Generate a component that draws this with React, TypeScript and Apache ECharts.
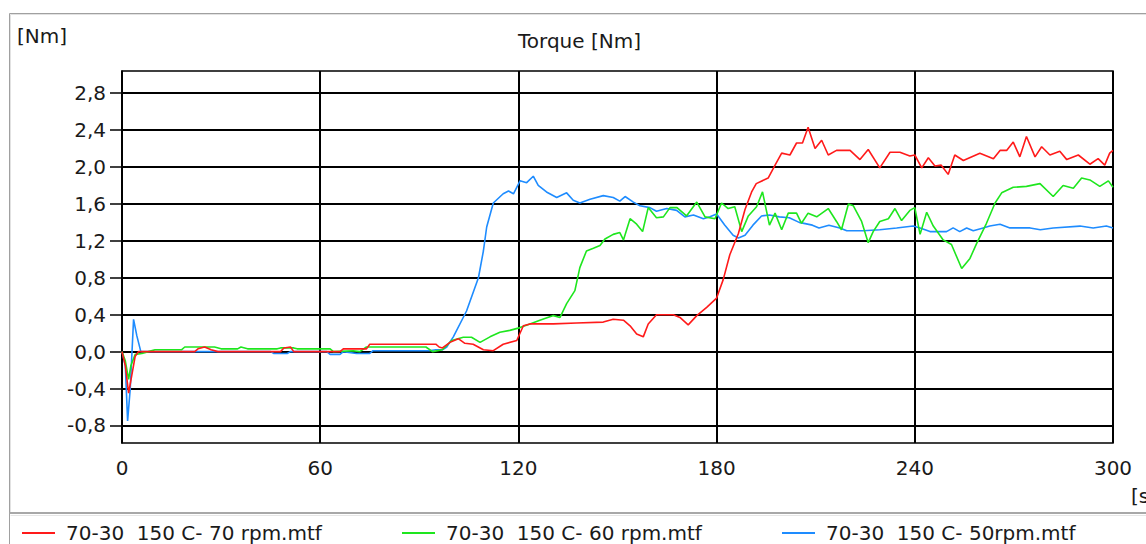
import React, { useEffect, useRef } from 'react';
import * as echarts from 'echarts';

const FONT = 'DejaVu Sans';

const seriesNames = ['70-30  150 C- 70 rpm.mtf', '70-30  150 C- 60 rpm.mtf', '70-30  150 C- 50rpm.mtf'];
const seriesColors = ['#ff1a1a', '#1ee61e', '#1e8cff'];
const yTicks = [-0.8, -0.4, 0, 0.4, 0.8, 1.2, 1.6, 2.0, 2.4, 2.8];
const xTicks = [0, 60, 120, 180, 240, 300];

// [time s, torque Nm]
const torque70: [number, number][] = [
  [0, 0], [1, -0.15], [2, -0.45], [3, -0.25], [4, -0.05], [5, 0], [22, 0], [23, 0.03], [25, 0.05], [27, 0.02],
  [29, 0], [48, 0], [49, 0.04], [51, 0.05], [52, 0], [66, 0], [67, 0.03], [74, 0.03], [75, 0.08], [95, 0.08],
  [96, 0.05], [97, 0.04], [99.3, 0.1], [101.8, 0.14], [103.8, 0.09], [106.3, 0.08], [109.4, 0.02], [112.4, 0.01],
  [115.4, 0.08], [119.5, 0.12], [121.5, 0.28], [123.5, 0.3], [130.6, 0.3], [137.6, 0.31], [145.7, 0.32],
  [148.7, 0.35], [151.8, 0.34], [153.8, 0.28], [155.8, 0.19], [157.8, 0.16], [159.3, 0.3], [161.8, 0.4],
  [166.9, 0.4], [168.9, 0.37], [171.4, 0.29], [174, 0.39], [177, 0.48], [180, 0.58], [182, 0.78], [184, 1.05],
  [186.6, 1.28], [188.6, 1.54], [190.6, 1.73], [192, 1.82], [195.6, 1.88], [197.7, 2.02], [199.7, 2.15],
  [202.2, 2.13], [204.2, 2.26], [206, 2.26], [207.7, 2.43], [209.8, 2.2], [211.8, 2.29], [213.8, 2.13],
  [216.3, 2.18], [220.4, 2.18], [223.4, 2.08], [225.9, 2.19], [229.4, 1.99], [232.5, 2.16], [235.5, 2.16],
  [238.5, 2.12], [240, 2.13], [242.1, 1.99], [244.1, 2.1], [246.1, 2.01], [248, 2.02], [250.1, 1.92],
  [252.1, 2.13], [254.7, 2.07], [259.7, 2.15], [263.8, 2.09], [265.8, 2.18], [267.8, 2.18], [269.8, 2.27],
  [271.8, 2.11], [273.8, 2.33], [276.4, 2.11], [278.4, 2.22], [280.9, 2.13], [283.9, 2.17], [286, 2.08],
  [289.5, 2.13], [293, 2.03], [295.5, 2.09], [297.5, 2.02], [299, 2.15], [300, 2.18],
];

const torque60: [number, number][] = [
  [0, 0], [1, -0.1], [2, -0.3], [2.7, -0.15], [4, -0.03], [6, -0.02], [8, 0], [10, 0.02], [18, 0.02],
  [19, 0.05], [28, 0.05], [30, 0.03], [35, 0.03], [36, 0.05], [38, 0.03], [47, 0.03], [48, 0.04], [52, 0.04],
  [53, 0.03], [63, 0.03], [64, 0], [70, 0.01], [72, 0], [74, 0.05], [92, 0.05], [94, 0], [97, 0.02],
  [99.8, 0.12], [103.3, 0.155], [105.8, 0.155], [108.4, 0.1], [111.4, 0.16], [114.4, 0.21], [117.4, 0.23],
  [120.5, 0.26], [123.5, 0.3], [126.5, 0.34], [130.6, 0.39], [132.6, 0.37], [134.6, 0.52], [137.1, 0.66],
  [138.6, 0.91], [140.6, 1.09], [142.7, 1.12], [144.7, 1.15], [146.2, 1.22], [148.7, 1.27], [150.7, 1.29],
  [151.8, 1.21], [153.8, 1.44], [155.8, 1.38], [157.6, 1.3], [159.3, 1.56], [161.8, 1.45], [163.9, 1.46],
  [165.9, 1.56], [168, 1.56], [170.9, 1.47], [174, 1.62], [176.5, 1.46], [179.5, 1.44], [181.5, 1.61],
  [183.5, 1.55], [185.5, 1.57], [187.6, 1.3], [189.6, 1.47], [192.1, 1.57], [193.9, 1.73], [196, 1.37],
  [197.7, 1.5], [199.7, 1.32], [201.7, 1.5], [204.2, 1.5], [205.7, 1.39], [207.7, 1.5], [210.3, 1.46],
  [213.8, 1.55], [216.3, 1.41], [217.8, 1.32], [219.9, 1.6], [221.4, 1.58], [223.9, 1.41], [225.9, 1.18],
  [227.4, 1.3], [229.4, 1.41], [232, 1.44], [234, 1.55], [236, 1.42], [238.5, 1.53], [240, 1.56],
  [241.6, 1.27], [243.6, 1.51], [245.6, 1.36], [248.6, 1.21], [251.1, 1.16], [254.2, 0.9], [256.7, 1.01],
  [258.7, 1.17], [261.7, 1.39], [264.3, 1.61], [266.3, 1.72], [269.8, 1.78], [273.8, 1.79], [277.9, 1.82],
  [281.9, 1.68], [284.9, 1.8], [288, 1.77], [290.5, 1.88], [293, 1.86], [296, 1.79], [298.6, 1.85], [300, 1.78],
];

const torque50: [number, number][] = [
  [0, 0], [1, -0.15], [1.7, -0.75], [2.5, -0.4], [3.5, 0.35], [4.5, 0.17], [5.7, 0], [45, 0], [46, -0.02],
  [50, -0.02], [51, 0], [62, 0], [63, -0.03], [66, -0.03], [67, 0], [71, -0.02], [75, -0.02], [76, 0.01],
  [93, 0.01], [95, 0.02], [97, 0.02], [98.3, 0.05], [100.3, 0.16], [104.3, 0.44], [107.9, 0.8], [109.4, 1.09],
  [110.4, 1.35], [112.4, 1.61], [115.4, 1.71], [117, 1.74], [118.5, 1.71], [120.5, 1.85], [122.5, 1.83],
  [124.5, 1.9], [126, 1.8], [128.5, 1.73], [131.6, 1.67], [134.6, 1.72], [136.6, 1.64], [138.6, 1.61],
  [141.7, 1.65], [145.7, 1.69], [148.7, 1.67], [150.7, 1.63], [152.3, 1.68], [154.8, 1.62], [156.8, 1.58],
  [159.8, 1.56], [161.8, 1.52], [164.9, 1.55], [167.9, 1.53], [170.4, 1.46], [173, 1.48], [176, 1.44],
  [178, 1.46], [180, 1.49], [182.5, 1.37], [185, 1.26], [186.6, 1.23], [188.6, 1.26], [191, 1.37],
  [193.6, 1.47], [196, 1.48], [199, 1.46], [202, 1.45], [205, 1.4], [209, 1.37], [211, 1.34], [214, 1.37],
  [217.3, 1.34], [219.4, 1.31], [224.4, 1.31], [229.4, 1.32], [234.5, 1.34], [239.5, 1.36], [241.6, 1.34],
  [244.6, 1.3], [249.6, 1.3], [251.6, 1.34], [253.6, 1.3], [255.7, 1.34], [257.7, 1.31], [260.7, 1.34],
  [262.7, 1.36], [265.8, 1.38], [268.8, 1.34], [274.9, 1.34], [278, 1.32], [281.9, 1.34], [290, 1.36],
  [294, 1.34], [298, 1.36], [300, 1.34],
];

const seriesData = [torque70, torque60, torque50];

export default function App() {
  const ref = useRef<HTMLDivElement>(null);
  useEffect(() => {
    if (!ref.current) return;
    const chart = echarts.init(ref.current, null, { renderer: 'svg' });
    const textBase = { fontFamily: FONT, fontSize: 20, color: '#1a1a1a' };
    const legendX = [22, 402, 782];
    chart.setOption({
      animation: false,
      backgroundColor: '#ffffff',
      textStyle: { fontFamily: FONT },
      title: {
        text: 'Torque [Nm]',
        left: 518,
        top: 31,
        padding: 0,
        textStyle: { ...textBase, fontWeight: 'normal' },
      },
      legend: seriesNames.map((name, i) => ({
        data: [name],
        left: legendX[i],
        top: 523,
        padding: 0,
        icon: 'rect',
        itemWidth: 33,
        itemHeight: 2,
        selectedMode: false,
        textStyle: { ...textBase, padding: [0, 0, 0, 6], lineHeight: 20 },
      })),
      grid: {
        left: 122,
        right: 33,
        top: 71,
        bottom: 101,
        show: true,
        borderColor: '#000',
        borderWidth: 1.5,
        backgroundColor: 'transparent',
        outerBoundsMode: 'none',
      },
      xAxis: {
        type: 'value',
        min: 0,
        max: 300,
        interval: 60,
        axisLine: { show: true, lineStyle: { color: '#000', width: 1.5 } },
        axisTick: { show: true, length: 9, lineStyle: { color: '#000', width: 1.5 } },
        axisLabel: { ...textBase, margin: 15, formatter: (v: number) => String(v) },
        splitLine: { show: true, lineStyle: { color: '#000', width: 2 } },
      },
      yAxis: {
        type: 'value',
        min: -0.99,
        max: 3.04,
        axisLine: { show: true, lineStyle: { color: '#000', width: 1.5 } },
        axisTick: { show: true, length: 12, customValues: yTicks, lineStyle: { color: '#000', width: 1.5 } },
        axisLabel: {
          ...textBase,
          margin: 16,
          customValues: yTicks,
          formatter: (v: number) => v.toFixed(1).replace('.', ','),
        },
        splitLine: { show: true, lineStyle: { color: '#000', width: 2 } },
      },
      graphic: [
        { type: 'line', shape: { x1: 9.5, y1: 13.5, x2: 1146, y2: 13.5 }, style: { stroke: '#a0a0a0', lineWidth: 1 } },
        { type: 'line', shape: { x1: 10.5, y1: 14.5, x2: 1146, y2: 14.5 }, style: { stroke: '#e2e2e2', lineWidth: 1 } },
        { type: 'line', shape: { x1: 9.5, y1: 13.5, x2: 9.5, y2: 544 }, style: { stroke: '#a0a0a0', lineWidth: 1 } },
        { type: 'line', shape: { x1: 10.5, y1: 14.5, x2: 10.5, y2: 512 }, style: { stroke: '#e2e2e2', lineWidth: 1 } },
        { type: 'line', shape: { x1: 9.5, y1: 513, x2: 1146, y2: 513 }, style: { stroke: '#a8a8a8', lineWidth: 2 } },
        { type: 'line', shape: { x1: 10.5, y1: 515.5, x2: 1146, y2: 515.5 }, style: { stroke: '#e6e6e6', lineWidth: 1 } },
        { type: 'text', left: 17, top: 26, style: { text: '[Nm]', font: `20px "${FONT}"`, fill: '#1a1a1a' } },
        { type: 'text', left: 1131, top: 486, style: { text: '[s]', font: `20px "${FONT}"`, fill: '#1a1a1a' } },
      ],
      series: [2, 1, 0].map((i) => ({
        name: seriesNames[i],
        type: 'line',
        data: seriesData[i],
        showSymbol: false,
        symbol: 'none',
        color: seriesColors[i],
        lineStyle: { color: seriesColors[i], width: 1.6 },
        itemStyle: { color: seriesColors[i] },
        emphasis: { disabled: true },
      })),
    });
    return () => chart.dispose();
  }, []);
  return <div ref={ref} style={{ position: 'absolute', left: 0, top: 0, width: 1146, height: 544 }} />;
}
